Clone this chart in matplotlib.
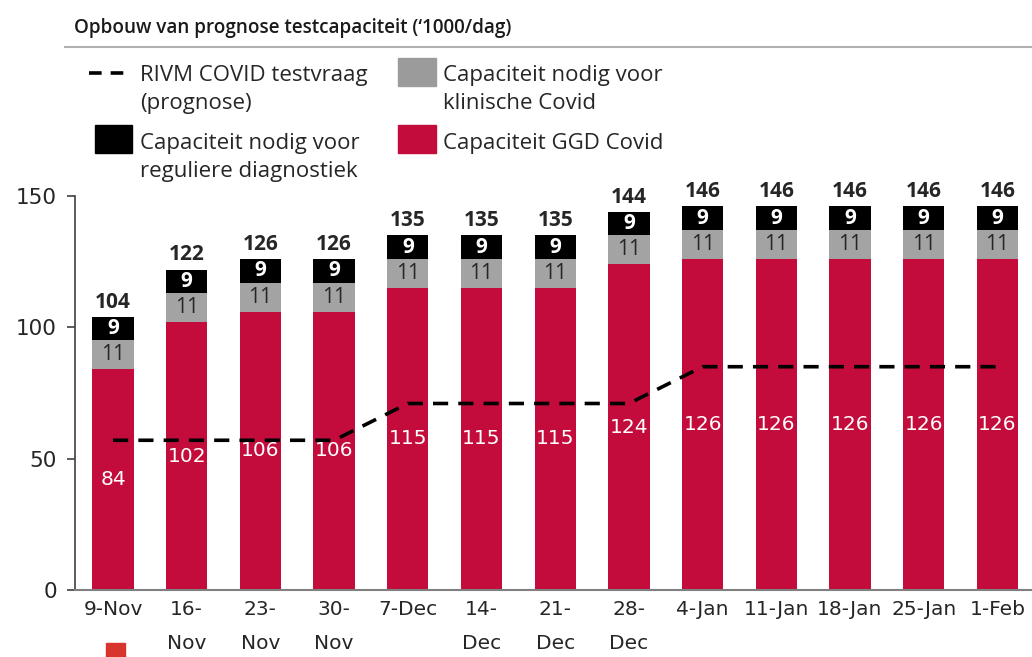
import numpy as np
import matplotlib
matplotlib.use('Agg')
import matplotlib.pyplot as plt
from matplotlib.patches import Rectangle
from matplotlib.lines import Line2D

# data
weeks = ['9-Nov', '16-\nNov', '23-\nNov', '30-\nNov', '7-Dec', '14-\nDec', '21-\nDec',
         '28-\nDec', '4-Jan', '11-Jan', '18-Jan', '25-Jan', '1-Feb']
ggd_covid = [84, 102, 106, 106, 115, 115, 115, 124, 126, 126, 126, 126, 126]
klinisch = [11, 11, 11, 11, 11, 11, 11, 11, 11, 11, 11, 11, 11]
regulier = [9, 9, 9, 9, 9, 9, 9, 9, 9, 9, 9, 9, 9]
rivm_vraag = [57, 57, 57, 57, 71, 71, 71, 71, 85, 85, 85, 85, 85]

RED = '#C30C3C'
GRAY = '#A3A3A3'
BLACK = '#000000'
TXT = '#262626'

fig = plt.figure(figsize=(10.32, 6.57), dpi=100)
ax = fig.add_axes([0.0727, 0.102, 0.9273, 0.5997])

x = np.arange(len(weeks))
ggd = np.array(ggd_covid)
kl = np.array(klinisch)
rg = np.array(regulier)
totals = ggd + kl + rg
w = 0.56

ax.bar(x, ggd, w, color=RED, zorder=2)
ax.bar(x, kl, w, bottom=ggd, color=GRAY, zorder=2)
ax.bar(x, rg, w, bottom=ggd + kl, color=BLACK, zorder=2)
ax.plot(x, rivm_vraag, color='black', lw=2.6, dashes=(4.2, 2.8), zorder=3)

for i in range(len(x)):
    ax.text(x[i], ggd[i] / 2, str(ggd[i]), ha='center', va='center', color='white',
            fontsize=14.5, family='DejaVu Sans', zorder=4)
    ax.text(x[i], ggd[i] + kl[i] / 2, str(kl[i]), ha='center', va='center', color=TXT,
            fontsize=15, family='Open Sans', zorder=4)
    ax.text(x[i], ggd[i] + kl[i] + rg[i] / 2, str(rg[i]), ha='center', va='center',
            color='white', fontsize=15, family='Open Sans', weight='bold', zorder=4)
    ax.annotate(str(totals[i]), (x[i], totals[i]), xytext=(0, 3), textcoords='offset points',
                ha='center', va='bottom', fontsize=15, family='Open Sans', weight='bold',
                color=TXT, annotation_clip=False)

ax.set_xlim(-0.516, 12.47)
ax.set_ylim(0, 150)
ax.set_yticks([0, 50, 100, 150])
ax.set_xticks(x)
ax.set_xticklabels(weeks, fontsize=14.5, family='DejaVu Sans', color=TXT, linespacing=2.0)
ax.tick_params(axis='x', length=0, pad=7)
ax.tick_params(axis='y', labelsize=15.5, colors=TXT, length=6, width=1.2, pad=7)
for lab in ax.get_yticklabels():
    lab.set_family('DejaVu Sans')
ax.tick_params(axis='y', color='#404040')
for s in ['top', 'right']:
    ax.spines[s].set_visible(False)
ax.spines['left'].set_color('#404040')
ax.spines['bottom'].set_color('#808080')
ax.spines['left'].set_linewidth(1.2)
ax.spines['bottom'].set_linewidth(1.5)

# title and rule
fig.text(0.0717, 0.958, 'Opbouw van prognose testcapaciteit (\u20181000/dag)', fontsize=13.6,
         family='Open Sans', weight='semibold', color='#1a1a1a', va='center')
fig.add_artist(Line2D([0.063, 1.0], [0.928, 0.928], color='#b0b0b0', lw=1.5))

# legend (hand placed)
fs = 16
ls = 1.45
fig.add_artist(Line2D([0.086, 0.126], [0.889, 0.889], color='black', lw=2.6, dashes=(3.5, 2.5)))
fig.text(0.1357, 0.901, 'RIVM COVID testvraag\n(prognose)', fontsize=fs, family='Open Sans',
         color=TXT, va='top', linespacing=ls)
fig.add_artist(Rectangle((0.092, 0.767), 0.036, 0.042, color=BLACK))
fig.add_artist(Rectangle((0.386, 0.869), 0.036, 0.042, color='#9B9B9B'))
fig.add_artist(Rectangle((0.386, 0.767), 0.036, 0.042, color=RED))
fig.text(0.429, 0.901, 'Capaciteit nodig voor\nklinische Covid', fontsize=fs, family='Open Sans',
         color=TXT, va='top', linespacing=ls)
fig.text(0.1357, 0.798, 'Capaciteit nodig voor\nreguliere diagnostiek', fontsize=fs,
         family='Open Sans', color=TXT, va='top', linespacing=ls)
fig.text(0.429, 0.798, 'Capaciteit GGD Covid', fontsize=fs, family='Open Sans',
         color=TXT, va='top')

# stray marker at bottom left
fig.add_artist(Rectangle((0.103, -0.01), 0.018, 0.031, color='#D9342B'))

fig.savefig('out.png', dpi=100)
